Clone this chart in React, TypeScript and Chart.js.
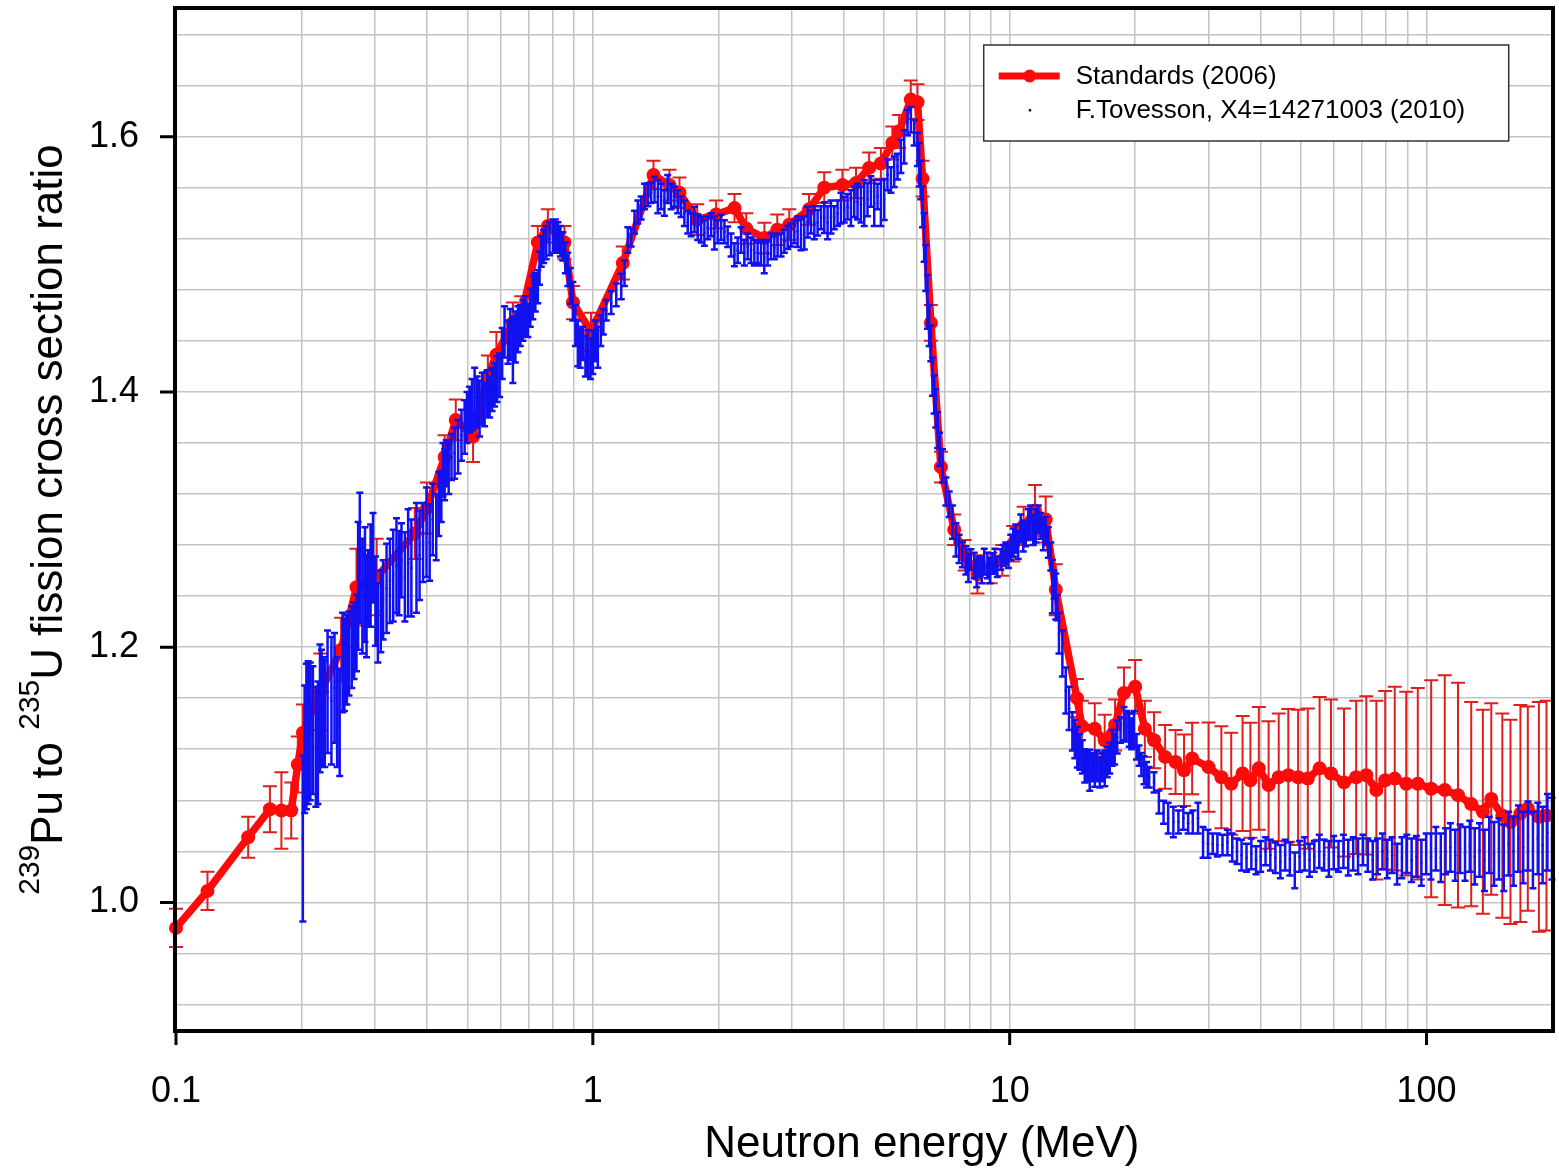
import { useEffect, useRef } from 'react';
import { Chart, registerables } from 'chart.js';

Chart.register(...registerables);

// ---------- data: [energy MeV, ratio, uncertainty] ----------
const standardsLow: [number, number, number][] = [
  [0.1, 0.98, 0.015], [0.119, 1.009, 0.015], [0.149, 1.051, 0.016], [0.168, 1.073, 0.018],
  [0.179, 1.072, 0.03], [0.189, 1.072, 0.022], [0.196, 1.108, 0.022], [0.2016, 1.133, 0.022],
  [0.222, 1.165, 0.03], [0.249, 1.198, 0.025], [0.271, 1.247, 0.03], [0.303, 1.255, 0.03],
  [0.374, 1.289, 0.02], [0.4, 1.309, 0.02], [0.441, 1.349, 0.017], [0.469, 1.378, 0.016],
  [0.516, 1.365, 0.02], [0.56, 1.4125, 0.016], [0.587, 1.429, 0.018], [0.643, 1.454, 0.016],
  [0.673, 1.459, 0.016], [0.738, 1.517, 0.013], [0.78, 1.53, 0.013], [0.855, 1.517, 0.013],
  [0.896, 1.47, 0.013], [0.99, 1.447, 0.015],
];
const standardsMid: [number, number, number][] = [
  [1.18, 1.501, 0.013], [1.398, 1.57, 0.011], [1.527, 1.562, 0.012], [1.614, 1.556, 0.012],
  [1.78, 1.535, 0.012], [1.976, 1.539, 0.011], [2.187, 1.544, 0.011], [2.333, 1.528, 0.012],
  [2.58, 1.5205, 0.012], [2.77, 1.527, 0.012], [2.96, 1.531, 0.012], [3.3, 1.543, 0.012],
  [3.59, 1.56, 0.012], [3.97, 1.562, 0.012], [4.28, 1.5637, 0.012], [4.6, 1.5755, 0.012],
  [4.91, 1.579, 0.012], [5.23, 1.595, 0.013], [5.43, 1.604, 0.013], [5.79, 1.629, 0.015],
  [6.01, 1.627, 0.014], [6.18, 1.567, 0.014], [6.47, 1.454, 0.014], [6.84, 1.341, 0.012],
  [7.36, 1.292, 0.012], [7.8, 1.272, 0.012], [8.37, 1.257, 0.015], [9.0, 1.262, 0.012],
  [9.6, 1.268, 0.012], [10.2, 1.281, 0.014], [10.8, 1.295, 0.015], [11.5, 1.307, 0.02],
  [12.2, 1.3, 0.018], [12.9, 1.245, 0.02],
];
const standardsHigh: [number, number, number][] = [
  [14.5, 1.16, 0.015], [14.9, 1.138, 0.02], [16.0, 1.136, 0.02], [16.9, 1.127, 0.02],
  [17.9, 1.139, 0.02], [18.8, 1.164, 0.02], [20.0, 1.169, 0.021], [21.1, 1.136, 0.022],
  [22.2, 1.127, 0.022], [23.6, 1.114, 0.025], [25.0, 1.11, 0.025], [26.2, 1.1035, 0.028],
  [27.4, 1.1127, 0.028], [30.0, 1.106, 0.035], [32.2, 1.098, 0.04], [34.0, 1.093, 0.04],
  [36.2, 1.101, 0.045], [37.8, 1.0957, 0.045], [39.6, 1.105, 0.048], [41.8, 1.092, 0.05],
  [44.2, 1.098, 0.05], [46.6, 1.0996, 0.052], [49.2, 1.098, 0.053], [51.9, 1.097, 0.055],
  [55.4, 1.105, 0.056], [59.0, 1.101, 0.058], [63.4, 1.094, 0.058], [67.8, 1.098, 0.06],
  [71.7, 1.0996, 0.062], [75.8, 1.088, 0.07], [79.6, 1.0957, 0.07], [83.9, 1.097, 0.072],
  [89.4, 1.093, 0.072], [95.3, 1.093, 0.075], [102.6, 1.089, 0.085], [110.6, 1.088, 0.09],
  [119, 1.084, 0.088], [128, 1.077, 0.08], [136.5, 1.071, 0.08], [143, 1.081, 0.075],
  [152, 1.068, 0.08], [159, 1.063, 0.08], [168, 1.0696, 0.085], [175, 1.0735, 0.08],
  [186, 1.067, 0.09], [194, 1.068, 0.09],
];

const tovessonLow: [number, number, number][] = [
  [0.2015, 1.05, 0.065], [0.2035, 1.12, 0.05], [0.2055, 1.13, 0.057], [0.2075, 1.133, 0.056],
  [0.21, 1.134, 0.054], [0.213, 1.135, 0.05], [0.2165, 1.122, 0.047], [0.219, 1.125, 0.048],
  [0.2215, 1.152, 0.05], [0.2234, 1.153, 0.045], [0.2255, 1.149, 0.043], [0.2275, 1.148, 0.042],
  [0.231, 1.165, 0.048], [0.236, 1.158, 0.05], [0.24, 1.168, 0.043], [0.2435, 1.149, 0.043],
  [0.247, 1.141, 0.042], [0.251, 1.188, 0.039], [0.2535, 1.186, 0.036], [0.257, 1.19, 0.035],
  [0.26, 1.195, 0.033], [0.264, 1.2, 0.032], [0.2675, 1.205, 0.03], [0.271, 1.211, 0.03],
  [0.2735, 1.248, 0.05], [0.276, 1.27, 0.051], [0.28, 1.24, 0.045], [0.284, 1.249, 0.045],
  [0.2865, 1.232, 0.04], [0.289, 1.247, 0.029], [0.293, 1.256, 0.04], [0.297, 1.27, 0.035],
  [0.301, 1.236, 0.035], [0.305, 1.219, 0.031], [0.31, 1.228, 0.032], [0.314, 1.237, 0.031],
  [0.32, 1.246, 0.035], [0.326, 1.252, 0.033], [0.332, 1.256, 0.036], [0.338, 1.264, 0.037],
  [0.343, 1.258, 0.033], [0.3475, 1.268, 0.029], [0.354, 1.255, 0.035], [0.3605, 1.266, 0.042],
  [0.367, 1.262, 0.038], [0.3775, 1.27, 0.043], [0.384, 1.272, 0.035], [0.3915, 1.282, 0.031],
  [0.399, 1.29, 0.035], [0.406, 1.282, 0.03], [0.413, 1.3, 0.028], [0.421, 1.294, 0.026],
  [0.427, 1.312, 0.025], [0.433, 1.318, 0.02], [0.437, 1.339, 0.021], [0.441, 1.335, 0.02],
  [0.445, 1.344, 0.018], [0.451, 1.34, 0.02], [0.458, 1.349, 0.018], [0.466, 1.352, 0.02],
  [0.475, 1.357, 0.021], [0.484, 1.366, 0.02], [0.4925, 1.3725, 0.021], [0.499, 1.38, 0.02],
  [0.506, 1.386, 0.018], [0.513, 1.39, 0.02], [0.5205, 1.396, 0.023], [0.528, 1.392, 0.02],
  [0.535, 1.387, 0.022], [0.543, 1.395, 0.02], [0.55, 1.39, 0.017], [0.558, 1.399, 0.018],
  [0.5655, 1.396, 0.016], [0.573, 1.402, 0.017], [0.581, 1.4055, 0.017], [0.589, 1.41, 0.018],
  [0.5975, 1.413, 0.017], [0.606, 1.43, 0.02], [0.614, 1.447, 0.02], [0.6255, 1.439, 0.017],
  [0.634, 1.445, 0.02], [0.643, 1.433, 0.026], [0.652, 1.443, 0.02], [0.661, 1.449, 0.018],
  [0.67, 1.452, 0.016], [0.6795, 1.456, 0.016], [0.689, 1.46, 0.015], [0.6985, 1.456, 0.013],
  [0.708, 1.466, 0.015], [0.718, 1.474, 0.017], [0.728, 1.478, 0.015], [0.738, 1.4825, 0.013],
  [0.745, 1.497, 0.013], [0.752, 1.51, 0.012], [0.762, 1.514, 0.013], [0.773, 1.517, 0.013],
  [0.787, 1.52, 0.013], [0.802, 1.522, 0.013], [0.813, 1.523, 0.012], [0.8245, 1.521, 0.012],
  [0.836, 1.518, 0.012], [0.8475, 1.514, 0.011], [0.859, 1.505, 0.012], [0.871, 1.496, 0.013],
  [0.883, 1.483, 0.014], [0.8955, 1.471, 0.015], [0.908, 1.452, 0.016], [0.9205, 1.438, 0.018],
  [0.933, 1.434, 0.015], [0.946, 1.438, 0.013], [0.96, 1.428, 0.016], [0.973, 1.4305, 0.018],
  [0.987, 1.426, 0.016], [1.0, 1.431, 0.017], [1.014, 1.44, 0.016], [1.028, 1.435, 0.016],
  [1.045, 1.448, 0.012], [1.06, 1.455, 0.01],
];
const tovessonMid: [number, number, number][] = [
  [1.077, 1.464, 0.008], [1.107, 1.47, 0.009], [1.138, 1.476, 0.009], [1.17, 1.4825, 0.01],
  [1.191, 1.493, 0.01], [1.213, 1.519, 0.01], [1.236, 1.521, 0.007], [1.259, 1.533, 0.009],
  [1.282, 1.541, 0.009], [1.306, 1.544, 0.009], [1.33, 1.553, 0.01], [1.355, 1.5545, 0.009],
  [1.38, 1.556, 0.008], [1.406, 1.5585, 0.01], [1.432, 1.553, 0.013], [1.458, 1.553, 0.01],
  [1.485, 1.548, 0.01], [1.512, 1.559, 0.011], [1.541, 1.553, 0.01], [1.569, 1.553, 0.008],
  [1.598, 1.549, 0.009], [1.628, 1.545, 0.008], [1.658, 1.54, 0.01], [1.689, 1.533, 0.009],
  [1.721, 1.531, 0.009], [1.753, 1.535, 0.01], [1.785, 1.529, 0.01], [1.819, 1.527, 0.01],
  [1.852, 1.5245, 0.01], [1.886, 1.5285, 0.009], [1.922, 1.531, 0.009], [1.957, 1.5245, 0.013],
  [1.993, 1.5255, 0.009], [2.031, 1.529, 0.01], [2.068, 1.5255, 0.009], [2.106, 1.5216, 0.008],
  [2.146, 1.515, 0.009], [2.186, 1.5075, 0.009], [2.226, 1.511, 0.01], [2.268, 1.519, 0.01],
  [2.309, 1.509, 0.01], [2.352, 1.514, 0.01], [2.396, 1.511, 0.01], [2.44, 1.509, 0.01],
  [2.485, 1.509, 0.008], [2.532, 1.509, 0.01], [2.578, 1.505, 0.012], [2.626, 1.509, 0.01],
  [2.676, 1.514, 0.01], [2.725, 1.513, 0.009], [2.775, 1.515, 0.009], [2.828, 1.515, 0.009],
  [2.88, 1.518, 0.009], [2.933, 1.521, 0.009], [2.988, 1.523, 0.009], [3.043, 1.5255, 0.009],
  [3.099, 1.5255, 0.012], [3.158, 1.523, 0.012], [3.216, 1.5245, 0.013], [3.275, 1.533, 0.012],
  [3.337, 1.533, 0.009], [3.399, 1.5325, 0.013], [3.461, 1.5325, 0.01], [3.527, 1.5365, 0.009],
  [3.591, 1.5365, 0.012], [3.657, 1.5325, 0.013], [3.727, 1.537, 0.013], [3.795, 1.5365, 0.009],
  [3.865, 1.54, 0.01], [3.938, 1.544, 0.012], [4.01, 1.5427, 0.01], [4.084, 1.545, 0.01],
  [4.161, 1.544, 0.014], [4.238, 1.549, 0.012], [4.315, 1.549, 0.014], [4.397, 1.5467, 0.014],
  [4.478, 1.548, 0.018], [4.56, 1.5506, 0.013], [4.646, 1.557, 0.012], [4.732, 1.548, 0.018],
  [4.819, 1.553, 0.01], [4.91, 1.548, 0.018], [5.0, 1.5506, 0.016], [5.092, 1.57, 0.012],
  [5.189, 1.566, 0.01], [5.284, 1.5725, 0.012], [5.381, 1.5765, 0.01], [5.483, 1.5845, 0.013],
  [5.584, 1.592, 0.013], [5.686, 1.611, 0.01], [5.794, 1.6133, 0.01], [5.9, 1.603, 0.01],
  [6.008, 1.59, 0.013],
];
const tovessonFall: [number, number, number][] = [
  [6.065, 1.578, 0.017], [6.12, 1.566, 0.015], [6.18, 1.545, 0.016], [6.235, 1.521, 0.019],
  [6.29, 1.497, 0.018], [6.35, 1.4705, 0.021], [6.41, 1.452, 0.016], [6.47, 1.438, 0.014],
  [6.53, 1.412, 0.015], [6.59, 1.398, 0.015], [6.65, 1.387, 0.015], [6.72, 1.37, 0.014],
  [6.79, 1.355, 0.013], [6.9, 1.342, 0.013], [7.03, 1.322, 0.011], [7.16, 1.312, 0.01],
  [7.29, 1.298, 0.013], [7.43, 1.284, 0.013], [7.56, 1.277, 0.011], [7.7, 1.2725, 0.01],
  [7.85, 1.268, 0.011], [7.96, 1.262, 0.011], [8.07, 1.2686, 0.008], [8.22, 1.264, 0.01],
  [8.33, 1.258, 0.011], [8.45, 1.263, 0.008], [8.57, 1.26, 0.01], [8.69, 1.267, 0.01],
  [8.84, 1.264, 0.01], [8.96, 1.26, 0.01], [9.09, 1.2655, 0.008], [9.22, 1.268, 0.009],
  [9.34, 1.263, 0.008], [9.52, 1.2686, 0.008], [9.65, 1.272, 0.008], [9.79, 1.274, 0.008],
  [9.93, 1.271, 0.009], [10.06, 1.278, 0.01], [10.2, 1.282, 0.011], [10.34, 1.285, 0.011],
  [10.48, 1.28, 0.011], [10.63, 1.293, 0.011], [10.78, 1.287, 0.012], [10.93, 1.289, 0.01],
  [11.08, 1.296, 0.012], [11.23, 1.298, 0.013], [11.39, 1.292, 0.012], [11.55, 1.295, 0.013],
  [11.71, 1.3, 0.011], [11.87, 1.295, 0.01], [12.04, 1.288, 0.012], [12.21, 1.291, 0.011],
  [12.38, 1.282, 0.012], [12.55, 1.271, 0.011], [12.66, 1.2475, 0.021], [12.78, 1.249, 0.011],
  [12.9, 1.2396, 0.018], [13.01, 1.231, 0.01], [13.13, 1.211, 0.016], [13.38, 1.195, 0.018],
  [13.63, 1.166, 0.018], [13.88, 1.152, 0.017], [14.14, 1.134, 0.015], [14.33, 1.128, 0.015],
  [14.53, 1.1216, 0.016], [14.73, 1.118, 0.014], [14.94, 1.114, 0.013], [15.14, 1.107, 0.013],
  [15.35, 1.107, 0.012], [15.56, 1.1035, 0.016], [15.78, 1.106, 0.011], [16.0, 1.1035, 0.013],
  [16.22, 1.107, 0.012], [16.45, 1.102, 0.012], [16.68, 1.106, 0.011], [16.91, 1.105, 0.014],
  [17.14, 1.11, 0.012], [17.38, 1.113, 0.012], [17.62, 1.121, 0.014], [17.86, 1.12, 0.012],
  [18.11, 1.1296, 0.013], [18.45, 1.135, 0.01], [18.8, 1.14, 0.013], [19.07, 1.138, 0.012],
  [19.35, 1.135, 0.013], [19.61, 1.132, 0.012], [19.87, 1.136, 0.014], [20.15, 1.122, 0.01],
];
const tovessonHigh: [number, number, number][] = [
  [20.43, 1.115, 0.008], [20.7, 1.108, 0.009], [21.0, 1.1035, 0.011], [21.3, 1.1, 0.01],
  [21.6, 1.098, 0.008], [22.2, 1.094, 0.008], [22.8, 1.0786, 0.009], [23.4, 1.0706, 0.009],
  [24.0, 1.066, 0.012], [24.7, 1.063, 0.012], [25.4, 1.063, 0.009], [26.1, 1.066, 0.009],
  [26.8, 1.062, 0.008], [27.5, 1.063, 0.009], [28.3, 1.066, 0.012], [29.1, 1.047, 0.012],
  [29.9, 1.046, 0.011], [30.7, 1.046, 0.008], [31.5, 1.045, 0.009], [32.4, 1.045, 0.008],
  [33.3, 1.047, 0.01], [34.2, 1.043, 0.011], [35.1, 1.04, 0.01], [36.0, 1.037, 0.012],
  [37.0, 1.035, 0.011], [38.0, 1.038, 0.012], [39.0, 1.033, 0.011], [40.0, 1.036, 0.012],
  [41.1, 1.04, 0.011], [42.2, 1.037, 0.012], [43.4, 1.035, 0.012], [44.6, 1.032, 0.013],
  [45.8, 1.037, 0.012], [47.0, 1.034, 0.013], [48.3, 1.025, 0.014], [49.6, 1.036, 0.012],
  [51.0, 1.038, 0.013], [52.4, 1.033, 0.013], [53.8, 1.036, 0.012], [55.3, 1.04, 0.013],
  [56.8, 1.037, 0.012], [58.3, 1.034, 0.014], [59.9, 1.039, 0.013], [61.5, 1.036, 0.012],
  [63.2, 1.04, 0.013], [64.9, 1.035, 0.014], [66.7, 1.038, 0.013], [68.5, 1.036, 0.014],
  [70.4, 1.041, 0.012], [72.3, 1.037, 0.013], [74.3, 1.033, 0.015], [76.3, 1.036, 0.014],
  [78.4, 1.04, 0.014], [80.5, 1.034, 0.015], [82.7, 1.037, 0.014], [85.0, 1.03, 0.016],
  [87.3, 1.035, 0.016], [89.7, 1.038, 0.015], [92.1, 1.033, 0.017], [94.6, 1.036, 0.016],
  [97.2, 1.031, 0.018], [99.8, 1.038, 0.016], [102.5, 1.036, 0.018], [105.3, 1.042, 0.017],
  [108.2, 1.035, 0.019], [111.1, 1.04, 0.018], [114.1, 1.043, 0.019], [117.2, 1.037, 0.02],
  [120.4, 1.042, 0.019], [123.7, 1.038, 0.021], [127.0, 1.044, 0.02], [130.5, 1.036, 0.022],
  [134.0, 1.041, 0.021], [137.7, 1.033, 0.024], [141.4, 1.045, 0.022], [145.2, 1.038, 0.025],
  [149.2, 1.042, 0.024], [153.2, 1.035, 0.026], [157.4, 1.046, 0.025], [161.7, 1.04, 0.027],
  [166.1, 1.05, 0.026], [170.6, 1.043, 0.028], [175.2, 1.052, 0.027], [180.0, 1.041, 0.03],
  [184.9, 1.05, 0.028], [189.9, 1.045, 0.03], [195.0, 1.055, 0.03], [200.0, 1.05, 0.032],
];

const xGridValues = [0.1, 0.2, 0.3, 0.4, 0.5, 0.6, 0.7, 0.8, 0.9, 1, 2, 3, 4, 5, 6, 7, 8, 9, 10, 20, 30, 40, 50, 60, 70, 80, 90, 100, 200];
const xLabelValues = [0.1, 1, 10, 100];
const yGridValues = [0.92, 0.96, 1.0, 1.04, 1.08, 1.12, 1.16, 1.2, 1.24, 1.28, 1.32, 1.36, 1.4, 1.44, 1.48, 1.52, 1.56, 1.6, 1.64, 1.68];
const yLabelValues = [1.0, 1.2, 1.4, 1.6];

const seriesNames = ['Standards (2006)', 'F.Tovesson, X4=14271003 (2010)'];
const xTitle = 'Neutron energy (MeV)';
const yTitleParts: [string, boolean][] = [['239', true], ['Pu to ', false], ['235', true], ['U fission cross section ratio', false]];

const FONT = '"Liberation Sans", Arial, Helvetica, sans-serif';
const RED = '#ff0a0a';
const RED_ERR = '#e01e1e';
const BLUE = '#1010f0';

const near = (a: number, list: number[]) => list.some((l) => Math.abs(a - l) < 1e-6 * Math.max(1, Math.abs(l)));

const toPoints = (rows: [number, number, number][][]) =>
  rows.flat().map(([x, y, err]) => ({ x, y, err }));

const errorBarPlugin = {
  id: 'errorBars',
  beforeDatasetDraw(chart: any, args: any) {
    const ds = chart.data.datasets[args.index];
    const cfg = ds.errorBars;
    if (!cfg) return;
    const ctx = chart.ctx;
    const ys = chart.scales.y;
    ctx.save();
    ctx.strokeStyle = cfg.color;
    ctx.lineWidth = cfg.width;
    ctx.beginPath();
    args.meta.data.forEach((el: any, i: number) => {
      const d = ds.data[i];
      const x = el.x;
      const t = ys.getPixelForValue(d.y + d.err);
      const b = ys.getPixelForValue(d.y - d.err);
      ctx.moveTo(x, t);
      ctx.lineTo(x, b);
      ctx.moveTo(x - cfg.cap, t);
      ctx.lineTo(x + cfg.cap, t);
      ctx.moveTo(x - cfg.cap, b);
      ctx.lineTo(x + cfg.cap, b);
    });
    ctx.stroke();
    ctx.restore();
  },
};

const decorPlugin = {
  id: 'decor',
  afterDatasetsDraw(chart: any) {
    const ctx = chart.ctx;
    const a = chart.chartArea;
    const xs = chart.scales.x;
    const ys = chart.scales.y;
    ctx.save();
    // frame
    ctx.strokeStyle = '#000';
    ctx.lineWidth = 4;
    ctx.strokeRect(a.left - 1, a.top - 1, a.right - a.left + 2, a.bottom - a.top + 2);
    // major tick marks
    ctx.lineWidth = 3;
    ctx.beginPath();
    xLabelValues.forEach((v) => {
      const px = xs.getPixelForValue(v);
      ctx.moveTo(px, a.bottom + 1);
      ctx.lineTo(px, a.bottom + 15);
    });
    yLabelValues.forEach((v) => {
      const py = ys.getPixelForValue(v);
      ctx.moveTo(a.left - 1, py);
      ctx.lineTo(a.left - 16, py);
    });
    ctx.stroke();

    // legend
    const lx = a.left + (a.right - a.left) * 0.587;
    const ly = 45;
    ctx.fillStyle = '#fff';
    ctx.fillRect(lx, ly, 525, 96);
    ctx.strokeStyle = '#333';
    ctx.lineWidth = 1.5;
    ctx.strokeRect(lx, ly, 525, 96);
    ctx.strokeStyle = RED;
    ctx.lineWidth = 7;
    ctx.beginPath();
    ctx.moveTo(lx + 15, ly + 31);
    ctx.lineTo(lx + 76, ly + 31);
    ctx.stroke();
    ctx.fillStyle = RED;
    ctx.beginPath();
    ctx.arc(lx + 46, ly + 31, 6.5, 0, Math.PI * 2);
    ctx.fill();
    ctx.fillStyle = '#101080';
    ctx.fillRect(lx + 45, ly + 64, 2.5, 2.5);
    ctx.fillStyle = '#000';
    ctx.font = `26px ${FONT}`;
    ctx.textAlign = 'left';
    ctx.textBaseline = 'middle';
    ctx.fillText(seriesNames[0], lx + 92, ly + 32);
    ctx.fillText(seriesNames[1], lx + 92, ly + 66);

    // x title
    ctx.font = `44px ${FONT}`;
    ctx.textAlign = 'center';
    ctx.textBaseline = 'alphabetic';
    ctx.fillText(xTitle, a.left + (a.right - a.left) * 0.542, 1157);

    // y title with superscripts
    const big = `44px ${FONT}`;
    const small = `30px ${FONT}`;
    let total = 0;
    yTitleParts.forEach(([t, sup]) => {
      ctx.font = sup ? small : big;
      total += ctx.measureText(t).width;
    });
    ctx.translate(62, (a.top + a.bottom) / 2);
    ctx.rotate(-Math.PI / 2);
    ctx.textAlign = 'left';
    let cx = -total / 2;
    yTitleParts.forEach(([t, sup]) => {
      ctx.font = sup ? small : big;
      ctx.fillText(t, cx, sup ? -23 : 0);
      cx += ctx.measureText(t).width;
    });
    ctx.restore();
  },
};

export default function App() {
  const canvasRef = useRef<HTMLCanvasElement | null>(null);

  useEffect(() => {
    if (!canvasRef.current) return;
    const chart = new Chart(canvasRef.current, {
      type: 'scatter',
      data: {
        datasets: [
          {
            label: seriesNames[1],
            data: toPoints([tovessonLow, tovessonMid, tovessonFall, tovessonHigh]),
            showLine: false,
            pointRadius: 1.3,
            pointBackgroundColor: BLUE,
            pointBorderWidth: 0,
            clip: false,
            errorBars: { color: BLUE, width: 2.5, cap: 3.5 },
          } as any,
          {
            label: seriesNames[0],
            data: toPoints([standardsLow, standardsMid, standardsHigh]),
            showLine: true,
            borderColor: RED,
            borderWidth: 7.5,
            pointRadius: 7,
            pointBackgroundColor: RED,
            pointBorderWidth: 0,
            tension: 0,
            clip: false,
            errorBars: { color: RED_ERR, width: 2, cap: 7 },
          } as any,
        ],
      },
      options: {
        responsive: false,
        animation: false,
        devicePixelRatio: 1,
        events: [],
        layout: { padding: { top: 9, right: 4, left: 0, bottom: 0 } },
        plugins: { legend: { display: false }, tooltip: { enabled: false } },
        scales: {
          x: {
            type: 'logarithmic',
            min: 0.1,
            max: 200,
            afterBuildTicks: (s: any) => {
              s.ticks = xGridValues.map((v) => ({ value: v }));
            },
            afterFit: (s: any) => {
              s.height = 138;
              s.paddingLeft = 0;
              s.paddingRight = 0;
              s.paddingTop = 0;
              s.paddingBottom = 0;
            },
            grid: { color: '#c4c4c4', lineWidth: 1.5, drawTicks: false },
            border: { display: false },
            ticks: {
              autoSkip: false,
              maxRotation: 0,
              minRotation: 0,
              padding: 40,
              color: '#000',
              font: { family: FONT, size: 36 },
              callback: (v: any) => (near(Number(v), xLabelValues) ? String(Number(v)) : ''),
            },
          },
          y: {
            type: 'linear',
            min: 0.9,
            max: 1.7,
            afterBuildTicks: (s: any) => {
              s.ticks = yGridValues.map((v) => ({ value: v }));
            },
            afterFit: (s: any) => {
              s.width = 176;
              s.paddingLeft = 0;
              s.paddingRight = 0;
              s.paddingTop = 0;
              s.paddingBottom = 0;
            },
            grid: { color: '#c4c4c4', lineWidth: 1.5, drawTicks: false },
            border: { display: false },
            ticks: {
              autoSkip: false,
              padding: 37,
              color: '#000',
              font: { family: FONT, size: 36 },
              callback: (v: any) => (near(Number(v), yLabelValues) ? Number(v).toFixed(1) : ''),
            },
          },
        },
      },
      plugins: [errorBarPlugin, decorPlugin],
    } as any);
    return () => chart.destroy();
  }, []);

  return (
    <div style={{ position: 'fixed', left: 0, top: 0, width: 1559, height: 1168, background: '#fff' }}>
      <canvas ref={canvasRef} width={1559} height={1168} style={{ display: 'block' }} />
    </div>
  );
}
